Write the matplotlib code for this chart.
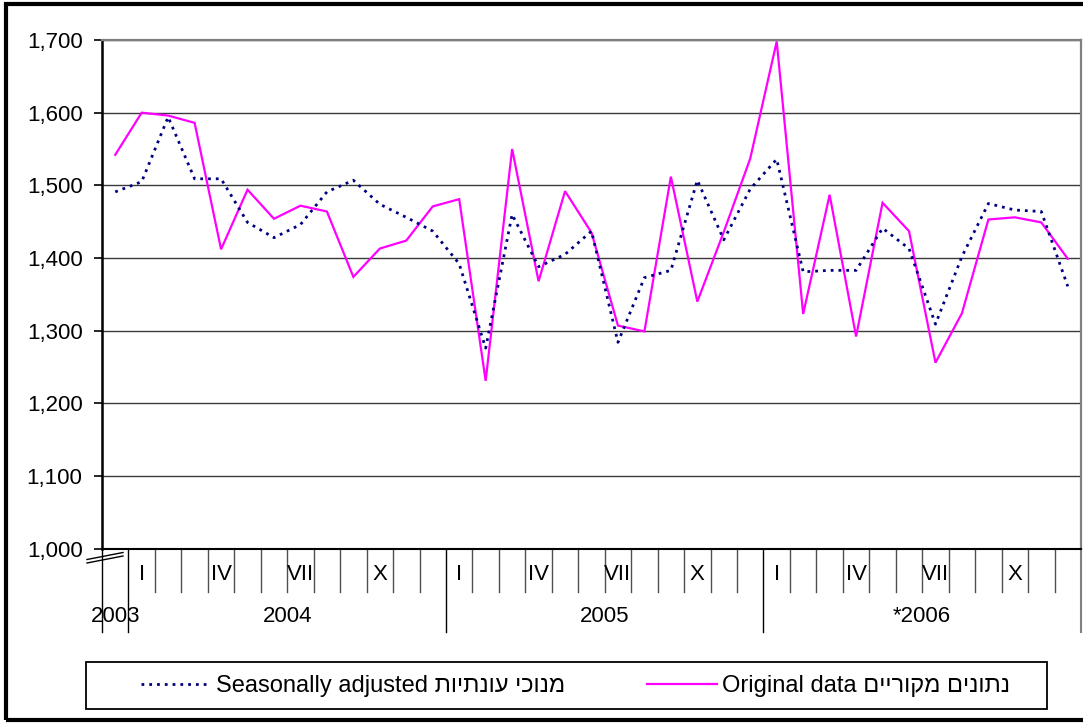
import matplotlib
matplotlib.use("Agg")
import matplotlib.pyplot as plt
from matplotlib.lines import Line2D
from matplotlib.patches import Rectangle
from matplotlib.ticker import FuncFormatter
import matplotlib.transforms as mtransforms

plt.rcParams['font.family'] = ['Liberation Sans', 'DejaVu Sans']

# ---------------- data ----------------
# months: Dec 2003, Jan 2004 ... Dec 2006
seasonally_adjusted = [1491, 1505, 1594, 1509, 1509, 1449, 1428, 1446, 1491, 1507,
                       1474, 1456, 1437, 1392, 1276, 1460, 1388, 1405, 1437, 1284,
                       1373, 1383, 1507, 1425, 1495, 1536, 1381, 1383, 1383, 1441,
                       1413, 1309, 1402, 1475, 1466, 1464, 1361]
original_data = [1542, 1600, 1596, 1586, 1412, 1494, 1454, 1472, 1464, 1374,
                 1413, 1424, 1471, 1481, 1231, 1550, 1368, 1492, 1435, 1307,
                 1299, 1512, 1340, 1436, 1537, 1698, 1323, 1487, 1292, 1476,
                 1437, 1256, 1324, 1453, 1456, 1449, 1399]
month_labels = ["I", "IV", "VII", "X"]
month_label_positions = [1, 4, 7, 10, 13, 16, 19, 22, 25, 28, 31, 34]
year_labels = ["2003", "2004", "2005", "*2006"]
year_spans = [(0, 0), (1, 12), (13, 24), (25, 36)]
y_ticks = [1000, 1100, 1200, 1300, 1400, 1500, 1600, 1700]
label_sa_en = "Seasonally adjusted"
label_sa_he = "מנוכי עונתיות"
label_orig_en = "Original data"
label_orig_he = "נתונים מקוריים"


def visual_rtl(s):
    # matplotlib has no bidi support: put Hebrew glyphs in visual order
    return s[::-1]


W, H = 1083, 724
fig = plt.figure(figsize=(W / 100, H / 100), dpi=100)
fig.patch.set_facecolor("white")

ax_l, ax_r, ax_t, ax_b = 102, 1081, 40, 548.7
ax = fig.add_axes([ax_l / W, 1 - ax_b / H, (ax_r - ax_l) / W, (ax_b - ax_t) / H])

n = len(original_data)
x = list(range(n))

ax.plot(x, original_data, color="#FF00FF", lw=1.6, zorder=3, solid_joinstyle="miter")
ax.plot(x, seasonally_adjusted, color="#000080", lw=2.0, linestyle=(0, (1.0, 1.8)), zorder=4)

ax.set_xlim(-0.5, n - 0.5)
ax.set_ylim(y_ticks[0], y_ticks[-1])
ax.set_yticks(y_ticks)
ax.yaxis.set_major_formatter(FuncFormatter(lambda v, p: f"{int(v):,}"))
ax.tick_params(axis="y", labelsize=16, length=6, width=1.2, pad=8, colors="black")
ax.set_xticks([])

ax.grid(axis="y", color="#3a3a3a", lw=1.0)
ax.set_axisbelow(True)

for side in ["top", "right"]:
    ax.spines[side].set_color("#808080")
    ax.spines[side].set_linewidth(1.6)
ax.spines["left"].set_linewidth(1.8)
ax.spines["bottom"].set_linewidth(1.5)
ax.spines["left"].set_color("black")
ax.spines["bottom"].set_color("black")

# category axis: separators, month labels, year labels
trans = mtransforms.blended_transform_factory(ax.transData, ax.transAxes)
ph = ax_b - ax_t
short = 43 / ph
long_ = 83 / ph
year_bounds = [s - 0.5 for s, e in year_spans] + [n - 0.5]
for k in range(n + 1):
    b = k - 0.5
    if b in year_bounds:
        col = "#808080" if k == n else "black"
        ax.plot([b, b], [0, -long_], color=col, lw=1.5 if k == n else 1.0,
                transform=trans, clip_on=False)
    else:
        ax.plot([b, b], [0, -short], color="#505050", lw=1.0, transform=trans, clip_on=False)

for i, pos in enumerate(month_label_positions):
    ax.text(pos, -26 / ph, month_labels[i % 4], transform=trans, ha="center", va="center",
            fontsize=16)
for lab, (s, e) in zip(year_labels, year_spans):
    ax.text((s + e) / 2, -68 / ph, lab, transform=trans, ha="center", va="center",
            fontsize=16)

# axis break mark
for dy in (0, 3.5):
    fig.add_artist(Line2D([87 / W, 123 / W], [1 - (559.5 + dy) / H, 1 - (552.5 + dy) / H],
                          color="black", lw=1.0))

# outer frame
fig.add_artist(Rectangle((5.5 / W, 1 - 720 / H), (1095 - 5.5) / W, (720 - 3.5) / H,
                         transform=fig.transFigure, fill=False, edgecolor="black", lw=3.0))

# legend box
lx0, lx1, ly0, ly1 = 86, 1047, 662, 709
fig.add_artist(Rectangle((lx0 / W, 1 - ly1 / H), (lx1 - lx0) / W, (ly1 - ly0) / H,
                         transform=fig.transFigure, fill=False, edgecolor="black", lw=1.3))

handles = [Line2D([], [], color="#000080", lw=2.0, linestyle=(0, (1.0, 1.8))),
           Line2D([], [], color="#FF00FF", lw=1.6)]
labels = [label_sa_en + " " + visual_rtl(label_sa_he),
          label_orig_en + " " + visual_rtl(label_orig_he)]
fs = 17
em = fs * 100 / 72
leg = fig.legend(handles, labels, loc="center left",
                 bbox_to_anchor=(141 / W, 1 - 686 / H),
                 ncol=2, frameon=False, fontsize=fs,
                 handlelength=70 / em, handletextpad=5 / em, columnspacing=82 / em,
                 borderaxespad=0, borderpad=0)

fig.savefig("out.png", dpi=100, facecolor="white")
